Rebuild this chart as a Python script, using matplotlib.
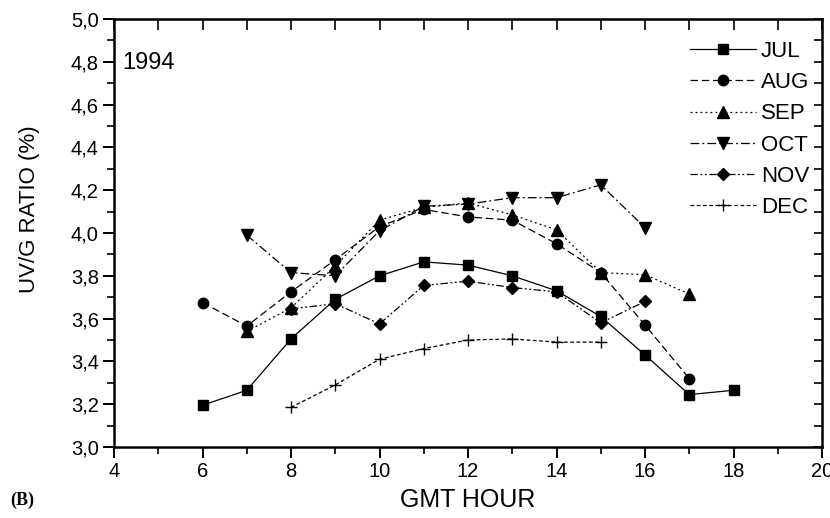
"""UV/G ratio by GMT hour, monthly curves for 1994 (panel B)."""

import numpy as np
import matplotlib
matplotlib.use("Agg")
import matplotlib.pyplot as plt
from matplotlib.ticker import MultipleLocator, FuncFormatter

# ---- data ----
jul_h = [6, 7, 8, 9, 10, 11, 12, 13, 14, 15, 16, 17, 18]
jul_r = [3.195, 3.265, 3.505, 3.69, 3.80, 3.865, 3.85, 3.80, 3.73, 3.61, 3.43, 3.245, 3.265]

aug_h = [6, 7, 8, 9, 10, 11, 12, 13, 14, 15, 16, 17]
aug_r = [3.675, 3.565, 3.725, 3.875, 4.03, 4.11, 4.075, 4.06, 3.95, 3.815, 3.57, 3.32]

sep_h = [7, 8, 9, 10, 11, 12, 13, 14, 15, 16, 17]
sep_r = [3.54, 3.65, 3.845, 4.06, 4.12, 4.14, 4.085, 4.015, 3.815, 3.805, 3.715]

oct_h = [7, 8, 9, 10, 11, 12, 13, 14, 15, 16]
oct_r = [3.99, 3.815, 3.80, 4.01, 4.125, 4.135, 4.165, 4.165, 4.225, 4.025]

nov_h = [8, 9, 10, 11, 12, 13, 14, 15, 16]
nov_r = [3.645, 3.67, 3.575, 3.755, 3.775, 3.745, 3.725, 3.58, 3.68]

dec_h = [8, 9, 10, 11, 12, 13, 14, 15]
dec_r = [3.185, 3.29, 3.41, 3.46, 3.50, 3.505, 3.49, 3.49]

months = ["JUL", "AUG", "SEP", "OCT", "NOV", "DEC"]
hours = [jul_h, aug_h, sep_h, oct_h, nov_h, dec_h]
ratios = [jul_r, aug_r, sep_r, oct_r, nov_r, dec_r]

styles = [
    dict(ls="-", marker="s", ms=7.5),
    dict(ls=(0, (6, 3)), marker="o", ms=7.5),
    dict(ls=(0, (1.5, 2.5)), marker="^", ms=8.5),
    dict(ls=(0, (7, 2.5, 1.5, 2.5)), marker="v", ms=8.5),
    dict(ls=(0, (6, 2, 1.5, 2, 1.5, 2)), marker="D", ms=6.5),
    dict(ls=(0, (3, 2)), marker="+", ms=9, mew=1.0),
]

narrow = ["Liberation Sans Narrow", "Liberation Sans", "DejaVu Sans"]
sans = ["Liberation Sans", "DejaVu Sans"]

fig = plt.figure(figsize=(8.3, 5.18), dpi=100)
ax = fig.add_axes([114 / 830, 1 - 447 / 518, 708 / 830, 428 / 518])

for h, r, lab, st in zip(hours, ratios, months, styles):
    ax.plot(h, r, color="black", lw=0.9, mfc="black", mec="black",
            label=lab, **st)

ax.set_xlim(4, 20)
ax.set_ylim(3.0, 5.0)

ax.xaxis.set_major_locator(MultipleLocator(2))
ax.xaxis.set_minor_locator(MultipleLocator(1))
ax.yaxis.set_major_locator(MultipleLocator(0.2))
ax.yaxis.set_minor_locator(MultipleLocator(0.1))
ax.yaxis.set_major_formatter(FuncFormatter(lambda v, p: f"{v:.1f}".replace(".", ",")))

ax.tick_params(which="major", direction="out", length=8, width=1.4,
               labelsize=14.5, pad=3)
ax.tick_params(which="minor", direction="out", length=5, width=1.2)
for lbl in ax.get_xticklabels() + ax.get_yticklabels():
    lbl.set_family(narrow)

for sp in ax.spines.values():
    sp.set_linewidth(1.8)

# top and right ticks point inward
top = ax.secondary_xaxis("top")
top.xaxis.set_major_locator(MultipleLocator(1))
top.tick_params(direction="in", length=8, width=1.2, labeltop=False)
right = ax.secondary_yaxis("right")
right.yaxis.set_major_locator(MultipleLocator(0.1))
right.tick_params(direction="in", length=6, width=1.2, labelright=False)

ax.set_xlabel("GMT HOUR", fontsize=18, family=sans)
ax.xaxis.set_label_coords(0.5, -0.096)
ax.set_ylabel("UV/G RATIO (%)", fontsize=16, family=sans)
ax.yaxis.set_label_coords(-0.105, 0.555)

ax.text(0.012, 0.897, "1994", transform=ax.transAxes, fontsize=17,
        family=sans, va="center", ha="left")

fig.text(10 / 830, 1 - 500 / 518, "(B)", fontsize=13, fontweight="bold",
         family=["Liberation Serif", "DejaVu Serif"], va="center", ha="left")

ax.legend(loc="upper right", bbox_to_anchor=(809 / 830, 1 - 41 / 518),
          bbox_transform=fig.transFigure, frameon=False, numpoints=1,
          handlelength=3.0, handletextpad=0.2, labelspacing=0.46,
          borderpad=0, borderaxespad=0,
          prop=dict(family=sans, size=16))

fig.savefig("out.png", dpi=100)
